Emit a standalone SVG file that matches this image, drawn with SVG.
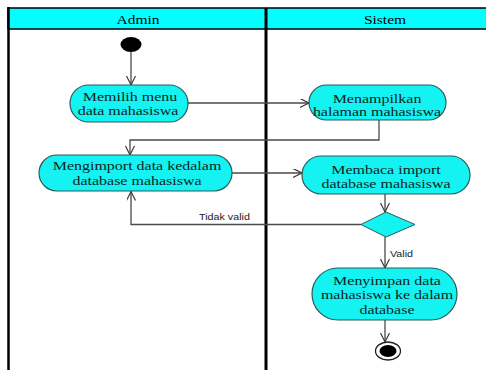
<svg xmlns="http://www.w3.org/2000/svg" width="486" height="370" viewBox="0 0 486 370">
  <style>
    .head { fill: #00ffff; stroke: #000000; stroke-width: 1.5; }
    .border { stroke: #000000; stroke-width: 2.5; fill: none; }
    .divider { stroke: #000000; stroke-width: 3; fill: none; }
    .title { font-family: "Liberation Serif", "Times New Roman", serif; font-size: 13.5px; fill: #000000; text-anchor: middle; }
    .act { fill: #14f2f2; stroke: #2a5a5a; stroke-width: 1.2; }
    .label { font-family: "Liberation Serif", "Times New Roman", serif; font-size: 13px; fill: #0f2424; text-anchor: middle; }
    .guard { font-family: "Liberation Sans", Arial, sans-serif; font-size: 9.5px; fill: #222222; }
    .flow { fill: none; stroke: #4a4a4a; stroke-width: 1.3; marker-end: url(#open); }
    .decision { fill: #14f2f2; stroke: #2a5a5a; stroke-width: 1; }
  </style>
  <defs>
    <marker id="open" markerUnits="userSpaceOnUse" markerWidth="12" markerHeight="12" refX="9" refY="4.5" orient="auto">
      <path d="M0,0 L9,4.5 L0,9" fill="none" stroke="#3a3a3a" stroke-width="1.2"/>
    </marker>
  </defs>

  <rect x="0" y="0" width="486" height="370" fill="#ffffff"/>

  <!-- swimlane frame -->
  <g id="swimlanes">
    <rect class="head" x="8" y="8" width="490" height="21"/>
    <line class="border" x1="8.5" y1="7" x2="8.5" y2="370"/>
    <line class="divider" x1="266" y1="8" x2="266" y2="370"/>
    <text class="title" transform="translate(138 24) scale(1.15 1)">Admin</text>
    <text class="title" transform="translate(385 24) scale(1.15 1)">Sistem</text>
  </g>

  <!-- control flow -->
  <g id="connectors">
    <line class="flow" x1="131" y1="52" x2="131" y2="85"/>
    <line class="flow" x1="188" y1="103" x2="309" y2="103"/>
    <polyline class="flow" points="379,120 379,140 130,140 130,155"/>
    <line class="flow" x1="232" y1="173" x2="302" y2="173"/>
    <line class="flow" x1="385" y1="194" x2="385" y2="212"/>
    <polyline class="flow" points="361,224.5 131,224.5 131,191.5"/>
    <line class="flow" x1="385" y1="237" x2="385" y2="268"/>
    <line class="flow" x1="385" y1="320" x2="385" y2="342"/>
    <text class="guard" transform="translate(199 220) scale(1.13 1)">Tidak valid</text>
    <text class="guard" transform="translate(390 257) scale(1.13 1)">Valid</text>
  </g>

  <g id="start">
    <ellipse cx="131" cy="44.5" rx="10.5" ry="7.5" fill="#000000"/>
  </g>

  <g id="memilih-menu">
    <rect class="act" x="70" y="85" width="118" height="37" rx="18.5" ry="18.5"/>
    <text class="label" transform="translate(130 101) scale(1.23 1)">Memilih menu</text>
    <text class="label" transform="translate(128 114.5) scale(1.23 1)">data mahasiswa</text>
  </g>

  <g id="menampilkan-halaman">
    <rect class="act" x="309" y="85" width="137" height="35" rx="17.5" ry="17.5"/>
    <text class="label" transform="translate(377 102.5) scale(1.23 1)">Menampilkan</text>
    <text class="label" transform="translate(377 116) scale(1.23 1)">halaman mahasiswa</text>
  </g>

  <g id="mengimport-data">
    <rect class="act" x="39" y="155" width="193" height="36" rx="18" ry="18"/>
    <text class="label" transform="translate(137 169.5) scale(1.23 1)">Mengimport data kedalam</text>
    <text class="label" transform="translate(137 185) scale(1.23 1)">database mahasiswa</text>
  </g>

  <g id="membaca-import">
    <rect class="act" x="302" y="156" width="168" height="38" rx="19" ry="19"/>
    <text class="label" transform="translate(386 173.5) scale(1.23 1)">Membaca import</text>
    <text class="label" transform="translate(386 187.5) scale(1.23 1)">database mahasiswa</text>
  </g>

  <g id="validasi">
    <polygon class="decision" points="386,212 415,224.5 386,237 361,224.5"/>
  </g>

  <g id="menyimpan-data">
    <rect class="act" x="312" y="268" width="145" height="52" rx="26" ry="26"/>
    <text class="label" transform="translate(387 284.5) scale(1.23 1)">Menyimpan data</text>
    <text class="label" transform="translate(387 299) scale(1.23 1)">mahasiswa ke dalam</text>
    <text class="label" transform="translate(387 313.5) scale(1.23 1)">database</text>
  </g>

  <g id="end">
    <ellipse cx="388" cy="351" rx="12.5" ry="9" fill="#ffffff" stroke="#222222" stroke-width="1.3"/>
    <ellipse cx="388" cy="351" rx="8.5" ry="6" fill="#000000"/>
  </g>
</svg>
